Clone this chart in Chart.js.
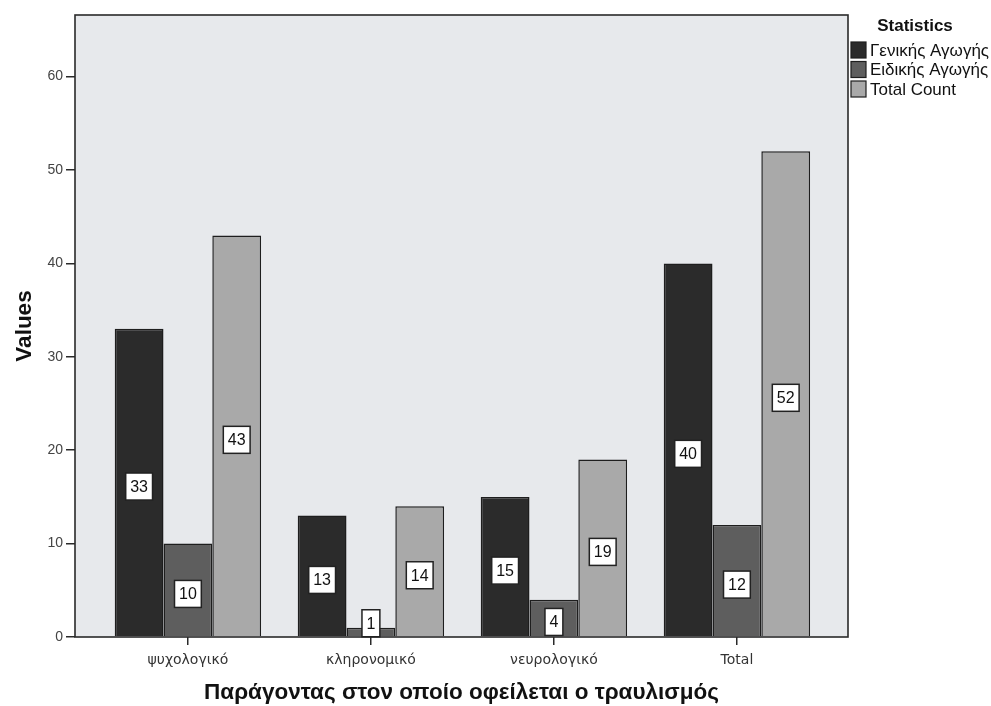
<!DOCTYPE html>
<html>
<head>
<meta charset="utf-8">
<script src="https://cdn.jsdelivr.net/npm/chart.js@4.4.1/dist/chart.umd.min.js"></script>
<style>
  html, body { margin: 0; padding: 0; background: #ffffff; }
  #wrap { width: 991px; height: 706px; position: relative; }
</style>
</head>
<body>
<div id="wrap"><canvas id="c" width="991" height="706"></canvas></div>
<script>
// Stuttering cause by school type
const categories = ['ψυχολογικό', 'κληρονομικό', 'νευρολογικό', 'Total'];
const seriesNames = ['Γενικής Αγωγής', 'Ειδικής Αγωγής', 'Total Count'];
const genikis = [33, 13, 15, 40];
const eidikis = [10, 1, 4, 12];
const totalCount = [43, 14, 19, 52];
const yTicks = [0, 10, 20, 30, 40, 50, 60];
const xTitle = 'Παράγοντας στον οποίο οφείλεται ο τραυλισμός';
const yTitle = 'Values';
const legendTitle = 'Statistics';

const FONT = "'Liberation Sans', Arial, Helvetica, sans-serif";
const WIDE = "'DejaVu Sans', Verdana, sans-serif";
const fills = ['#2b2b2b', '#5e5e5e', '#a9a9a9'];
const edge = '#1e1e1e';

Chart.defaults.font.family = FONT;

const toPoints = vals => vals.map((v, i) => ({ x: i, y: v }));

// Plot background, frame, value boxes and the legend block
const decorations = {
  id: 'decorations',
  beforeDraw(chart) {
    const { ctx, chartArea: a } = chart;
    ctx.save();
    ctx.fillStyle = '#e7e9ec';
    ctx.fillRect(a.left, a.top, a.right - a.left, a.bottom - a.top);
    ctx.restore();
  },
  afterDatasetsDraw(chart) {
    const { ctx, chartArea: a } = chart;
    ctx.save();
    // frame
    ctx.strokeStyle = '#2a2a2a';
    ctx.lineWidth = 1.6;
    ctx.strokeRect(a.left, a.top, a.right - a.left, a.bottom - a.top);

    // value boxes
    ctx.font = '16px ' + FONT;
    ctx.textAlign = 'center';
    ctx.textBaseline = 'middle';
    chart.data.datasets.forEach((ds, di) => {
      const meta = chart.getDatasetMeta(di);
      meta.data.forEach((el, i) => {
        const p = el.getProps(['x', 'y', 'base'], true);
        const txt = String(ds.data[i].y);
        const cy = Math.min((p.y + p.base) / 2 + 4, p.base - 13);
        const w = ctx.measureText(txt).width + 9;
        const h = 27;
        ctx.fillStyle = '#ffffff';
        ctx.fillRect(p.x - w / 2, cy - h / 2, w, h);
        ctx.strokeStyle = '#222222';
        ctx.lineWidth = 1.5;
        ctx.strokeRect(p.x - w / 2, cy - h / 2, w, h);
        ctx.fillStyle = '#111111';
        ctx.fillText(txt, p.x, cy + 1);
      });
    });

    // legend
    const lx = 851;
    ctx.fillStyle = '#111111';
    ctx.font = 'bold 17px ' + FONT;
    ctx.textAlign = 'center';
    ctx.fillText(legendTitle, 915, 26);
    ctx.font = '17px ' + FONT;
    ctx.textAlign = 'left';
    chart.data.datasets.forEach((ds, di) => {
      const cy = 50 + di * 19.5;
      ctx.fillStyle = ds.backgroundColor;
      ctx.fillRect(lx, cy - 8, 15, 16);
      ctx.strokeStyle = edge;
      ctx.lineWidth = 1.2;
      ctx.strokeRect(lx, cy - 8, 15, 16);
      ctx.fillStyle = '#111111';
      ctx.fillText(ds.label, lx + 19, cy + 1);
    });
    ctx.restore();
  }
};

new Chart(document.getElementById('c'), {
  type: 'bar',
  data: {
    datasets: [
      { label: seriesNames[0], data: toPoints(genikis), backgroundColor: fills[0] },
      { label: seriesNames[1], data: toPoints(eidikis), backgroundColor: fills[1] },
      { label: seriesNames[2], data: toPoints(totalCount), backgroundColor: fills[2] }
    ]
  },
  options: {
    responsive: false,
    animation: false,
    devicePixelRatio: 1,
    layout: { padding: { top: 15, right: 143, left: 0, bottom: 0 } },
    datasets: {
      bar: {
        borderColor: edge,
        borderWidth: 1.5,
        categoryPercentage: 0.8,
        barPercentage: 1.0
      }
    },
    scales: {
      x: {
        type: 'linear',
        offset: false,
        min: -0.617,
        max: 3.607,
        afterBuildTicks: ax => { ax.ticks = categories.map((_, i) => ({ value: i })); },
        afterFit: s => { s.height = 69; },
        ticks: {
          callback: v => categories[v],
          font: { size: 14, family: WIDE },
          color: '#333333',
          padding: 7,
          maxRotation: 0,
          autoSkip: false
        },
        grid: { offset: false, drawOnChartArea: false, drawTicks: true, tickLength: 8, color: '#2a2a2a', lineWidth: 1.5 },
        border: { display: false },
        title: {
          display: true,
          text: xTitle,
          font: { size: 22.5, weight: 'bold' },
          color: '#111111',
          padding: { top: 0, bottom: 0 }
        }
      },
      y: {
        min: 0,
        max: 66.6,
        afterBuildTicks: ax => { ax.ticks = yTicks.map(v => ({ value: v })); },
        afterFit: s => { s.width = 75; },
        ticks: { font: { size: 14 }, color: '#444444', padding: 3 },
        grid: { drawOnChartArea: false, drawTicks: true, tickLength: 9, color: '#2a2a2a', lineWidth: 1.5 },
        border: { display: false },
        title: {
          display: true,
          text: yTitle,
          font: { size: 22.5, weight: 'bold' },
          color: '#111111',
          padding: { top: 11, bottom: 0 }
        }
      }
    },
    plugins: {
      legend: { display: false },
      tooltip: { enabled: false }
    }
  },
  plugins: [decorations]
});
</script>
</body>
</html>
